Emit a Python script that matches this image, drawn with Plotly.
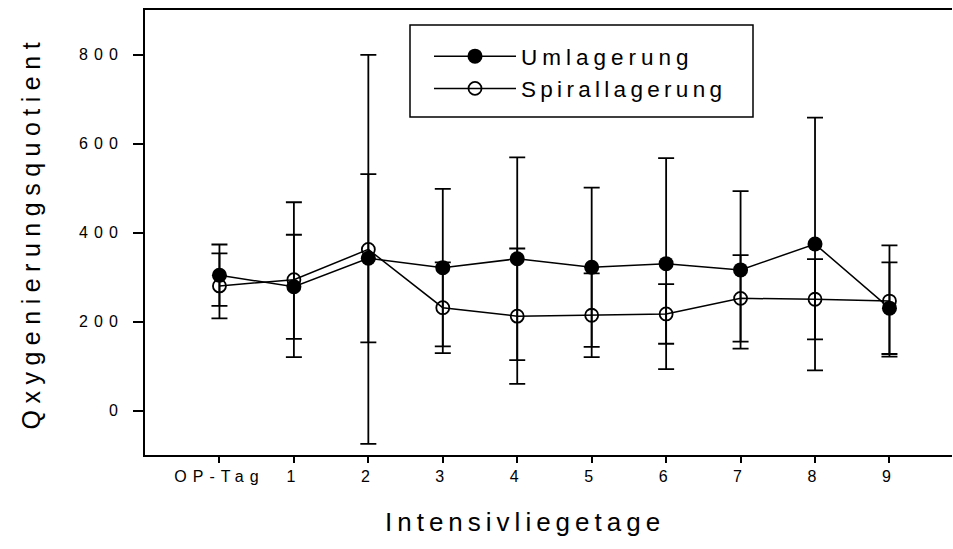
import plotly.graph_objects as go

# Intensive-care days and mean oxygenation quotient per positioning method
days = ["OP-Tag", "1", "2", "3", "4", "5", "6", "7", "8", "9"]
umlagerung_mean = [304, 278, 342, 321, 341, 322, 330, 316, 374, 230]
umlagerung_sd = [69, 117, 189, 177, 228, 179, 237, 177, 284, 103]
spiral_mean = [280, 294, 362, 231, 212, 214, 217, 252, 250, 246]
spiral_sd = [73, 174, 437, 102, 152, 94, 67, 97, 90, 125]

FONT = "Liberation Sans, Arial, sans-serif"
xpos = list(range(len(days)))

# plot-area geometry in pixels (used to place legend frame and titles)
W, H = 953, 549
ML, MR, MT, MB = 145, 1, 10, 94
PW, PH = W - ML - MR, H - MT - MB


def px_x(px):
    return (px - ML) / PW


def px_y(py):
    return (H - MB - py) / PH


def spaced(text, px):
    return f'<span style="letter-spacing:{px}px">{text}</span>'


fig = go.Figure()

fig.add_trace(go.Scatter(
    x=xpos, y=spiral_mean, mode="lines+markers",
    name=spaced("Spirallagerung", 4.3),
    line=dict(color="black", width=1.5),
    marker=dict(symbol="circle-open", size=13, color="black", line=dict(width=1.8)),
    error_y=dict(type="data", array=spiral_sd, visible=True,
                 color="black", thickness=1.8, width=8),
    legendrank=2,
))
fig.add_trace(go.Scatter(
    x=xpos, y=umlagerung_mean, mode="lines+markers",
    name=spaced("Umlagerung", 5),
    line=dict(color="black", width=1.5),
    marker=dict(symbol="circle", size=15, color="black"),
    error_y=dict(type="data", array=umlagerung_sd, visible=True,
                 color="black", thickness=1.8, width=8),
    legendrank=1,
))

fig.update_layout(
    width=W, height=H,
    margin=dict(l=ML, r=MR, t=MT, b=MB),
    paper_bgcolor="white", plot_bgcolor="white",
    font=dict(family=FONT, color="black"),
    showlegend=True,
    legend=dict(
        x=px_x(429), y=px_y(35), xanchor="left", yanchor="top",
        bgcolor="rgba(0,0,0,0)", borderwidth=0,
        font=dict(size=22.5, family=FONT, color="black"),
        itemwidth=82,
    ),
    shapes=[
        dict(type="rect", xref="paper", yref="paper",
             x0=px_x(410), x1=px_x(753), y0=px_y(117), y1=px_y(25),
             line=dict(color="black", width=1.5), fillcolor="rgba(0,0,0,0)"),
    ],
    xaxis=dict(
        range=[-1, 9.84], tickmode="array", tickvals=xpos,
        ticktext=[spaced(d, 6) for d in days],
        tickfont=dict(size=16, family=FONT, color="black"),
        showgrid=False, zeroline=False,
        showline=True, linecolor="black", linewidth=2, mirror=True,
        ticks="outside", ticklen=6, tickwidth=2, tickcolor="black",
    ),
    yaxis=dict(
        range=[-100, 900], tickvals=[0, 200, 400, 600, 800],
        ticktext=[spaced(str(v), 6) for v in [0, 200, 400, 600, 800]],
        tickfont=dict(size=16, family=FONT, color="black"),
        showgrid=False, zeroline=False,
        showline=True, linecolor="black", linewidth=2,
        ticks="outside", ticklen=10, tickwidth=2, tickcolor="black",
        ticklabelstandoff=6,
    ),
    annotations=[
        dict(text=spaced("Intensivliegetage", 5), xref="paper", yref="paper",
             x=px_x(525), y=px_y(522), xanchor="center", yanchor="middle",
             showarrow=False, font=dict(size=26, family=FONT, color="black")),
        dict(text=spaced("Qxygenierungsquotient", 6.5), xref="paper", yref="paper",
             x=px_x(30), y=0.5, xanchor="center", yanchor="middle",
             textangle=-90, showarrow=False,
             font=dict(size=25, family=FONT, color="black")),
    ],
)

fig.write_html("out.html")
